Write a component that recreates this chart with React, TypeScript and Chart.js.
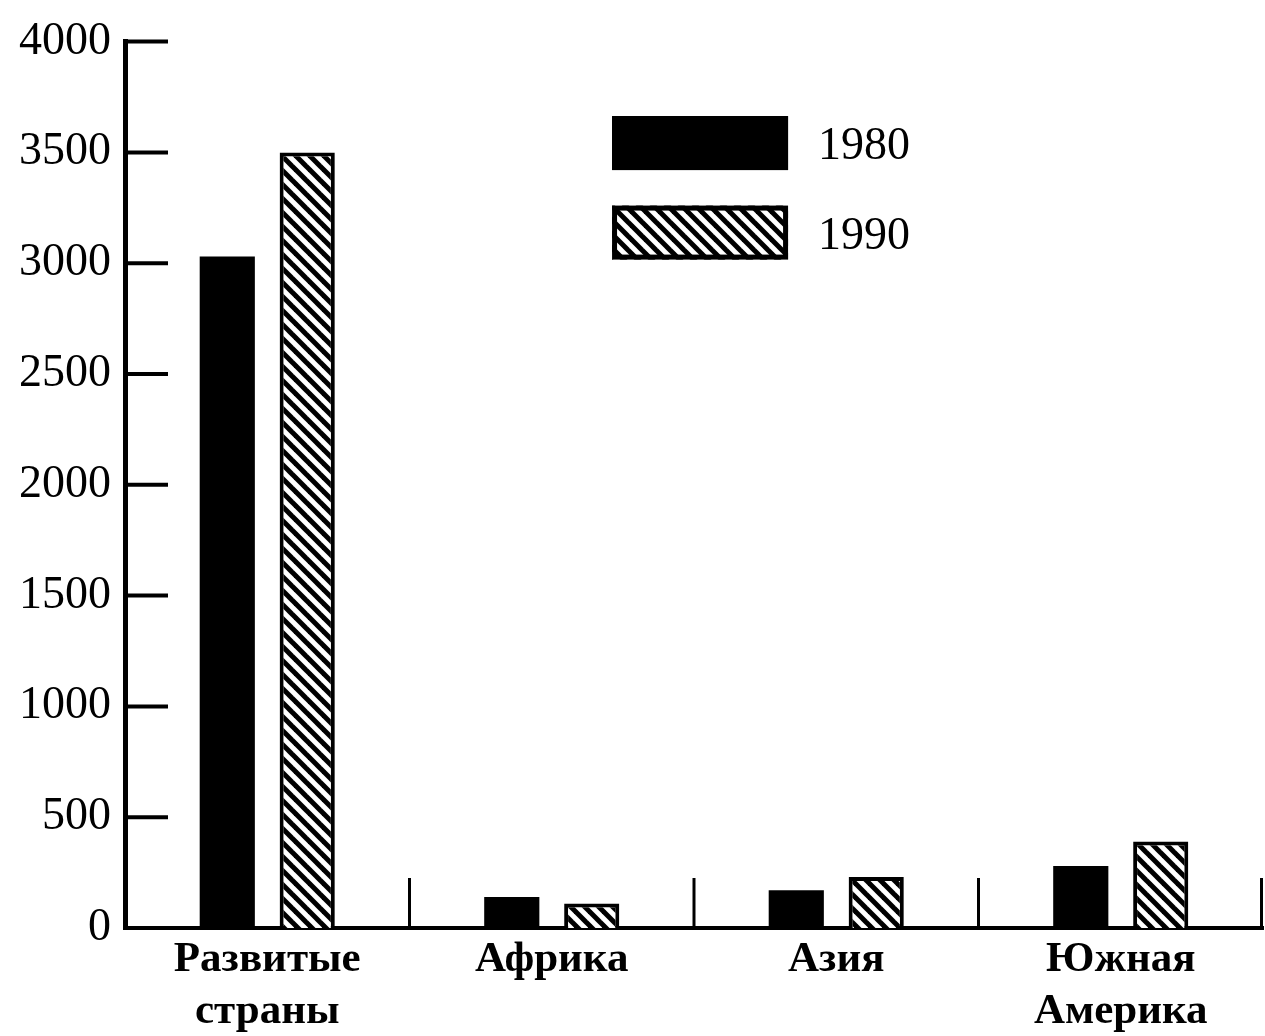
import React, { useEffect, useRef } from 'react';
import { Chart, registerables } from 'chart.js';

Chart.register(...registerables);

// ---- data ----
const categories: string[][] = [['Развитые', 'страны'], ['Африка'], ['Азия'], ['Южная', 'Америка']];
const seriesLabels = ['1980', '1990'];
const values1980 = [3030, 140, 170, 280];
const values1990 = [3500, 110, 230, 390];
const yMin = 0;
const yMax = 4000;
const yStep = 500;

const FONT = "'Liberation Serif', 'DejaVu Serif', serif";

function makeHatch(): CanvasPattern | string {
  const s = 14;
  const c = document.createElement('canvas');
  c.width = s;
  c.height = s;
  const g = c.getContext('2d');
  if (!g) return '#000';
  g.fillStyle = '#fff';
  g.fillRect(0, 0, s, s);
  g.strokeStyle = '#000';
  g.lineWidth = 5;
  for (let k = -1; k <= 1; k++) {
    g.beginPath();
    g.moveTo(k * s - 2, -2);
    g.lineTo(k * s + s + 2, s + 2);
    g.stroke();
  }
  const p = g.createPattern(c, 'repeat');
  return p || '#000';
}

const bookAxes = {
  id: 'bookAxes',
  afterDatasetsDraw(chart: any) {
    const { ctx, chartArea, scales } = chart;
    const x = scales.x;
    const y = scales.y;
    ctx.save();
    ctx.strokeStyle = '#000';
    ctx.lineCap = 'butt';
    // inward y ticks
    ctx.lineWidth = 4;
    y.ticks.forEach((t: any) => {
      const py = y.getPixelForValue(t.value);
      ctx.beginPath();
      ctx.moveTo(chartArea.left, py);
      ctx.lineTo(chartArea.left + 43, py);
      ctx.stroke();
    });
    // category separators
    ctx.lineWidth = 3;
    const n = x.ticks.length;
    const half = n > 1 ? (x.getPixelForValue(1) - x.getPixelForValue(0)) / 2 : 0;
    for (let i = 0; i < n; i++) {
      let px = x.getPixelForValue(i) + half;
      if (px > chartArea.right - 1.5) px = chartArea.right - 1.5;
      ctx.beginPath();
      ctx.moveTo(px, chartArea.bottom);
      ctx.lineTo(px, chartArea.bottom - 50);
      ctx.stroke();
    }
    ctx.restore();
  },
};

const bookLegend = {
  id: 'bookLegend',
  afterDraw(chart: any) {
    const { ctx, chartArea } = chart;
    const w = chartArea.right - chartArea.left;
    const h = chartArea.bottom - chartArea.top;
    const bx = chartArea.left + 0.428 * w;
    const rows = [chartArea.top + 0.084 * h, chartArea.top + 0.185 * h];
    const bw = 176;
    const bh = 54;
    ctx.save();
    chart.data.datasets.forEach((ds: any, i: number) => {
      const by = rows[i];
      ctx.fillStyle = ds.backgroundColor;
      ctx.fillRect(bx, by, bw, bh);
      ctx.strokeStyle = '#000';
      ctx.lineWidth = 5;
      ctx.strokeRect(bx + 2.5, by + 2.5, bw - 5, bh - 5);
      ctx.fillStyle = '#000';
      ctx.font = `46px ${FONT}`;
      ctx.textAlign = 'left';
      ctx.textBaseline = 'middle';
      ctx.fillText(ds.label, bx + bw + 30, by + bh / 2 + 4);
    });
    ctx.restore();
  },
};

export default function App() {
  const ref = useRef<HTMLCanvasElement | null>(null);

  useEffect(() => {
    if (!ref.current) return;
    const hatch = makeHatch();
    const chart = new Chart(ref.current, {
      type: 'bar',
      data: {
        labels: categories,
        datasets: [
          {
            label: seriesLabels[0],
            data: values1980,
            backgroundColor: '#000',
            borderColor: '#000',
            borderWidth: 0,
          },
          {
            label: seriesLabels[1],
            data: values1990,
            backgroundColor: hatch as any,
            borderColor: '#000',
            borderWidth: 4,
          },
        ],
      },
      options: {
        responsive: false,
        animation: false,
        events: [],
        layout: { padding: { top: 35, right: 2, left: 0, bottom: 0 } },
        plugins: {
          legend: { display: false },
          tooltip: { enabled: false },
        },
        datasets: { bar: { categoryPercentage: 0.562, barPercentage: 0.69 } },
        scales: {
          x: {
            type: 'category',
            offset: true,
            grid: { display: false, drawTicks: false },
            border: { display: true, color: '#000', width: 4 },
            ticks: {
              color: '#000',
              padding: 6,
              maxRotation: 0,
              autoSkip: false,
              font: { family: FONT, size: 43, weight: 'bold', lineHeight: 1.2 },
            },
            afterFit(scale: any) {
              scale.height = 108;
            },
          },
          y: {
            type: 'linear',
            min: yMin,
            max: yMax,
            grid: { display: false, drawTicks: false },
            border: { display: true, color: '#000', width: 5 },
            ticks: {
              stepSize: yStep,
              color: '#000',
              padding: 14,
              font: { family: FONT, size: 46 },
              callback: (v: any) => String(v),
            },
            afterFit(scale: any) {
              scale.width = 125;
            },
          },
        },
      },
      plugins: [bookAxes, bookLegend],
    });
    return () => chart.destroy();
  }, []);

  return (
    <div style={{ position: 'absolute', left: 0, top: 0, width: 1265, height: 1036, background: '#fff' }}>
      <canvas ref={ref} width={1265} height={1036} />
    </div>
  );
}
